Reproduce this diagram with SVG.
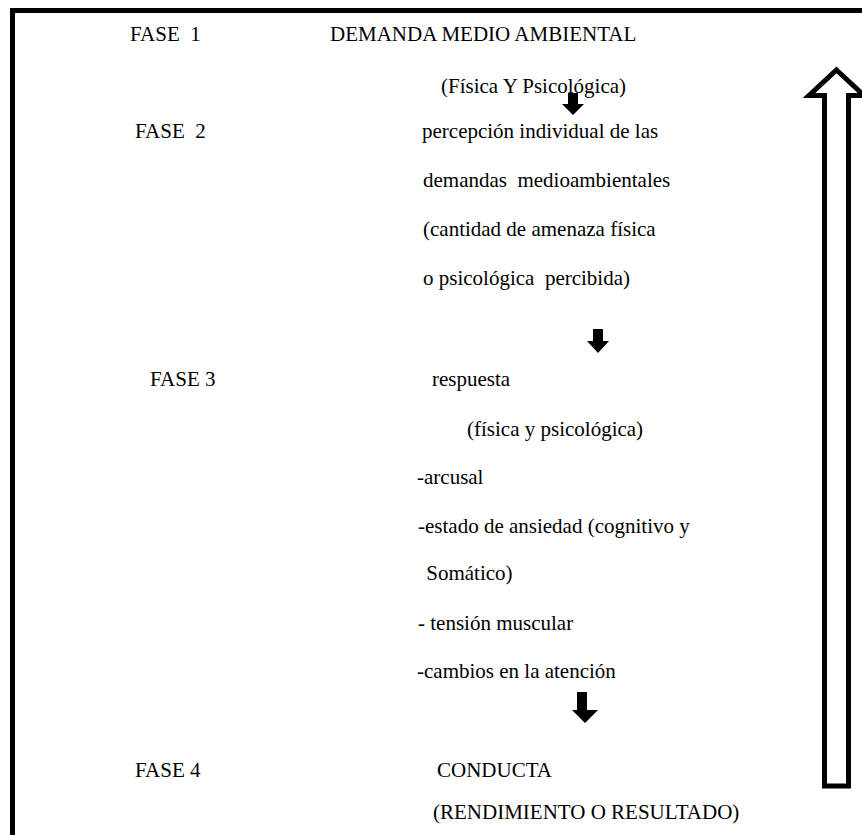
<svg xmlns="http://www.w3.org/2000/svg" width="862" height="835" viewBox="0 0 862 835">
<style>
text{font-family:"Liberation Serif","Times New Roman",serif;font-size:21px;fill:#000;white-space:pre}
.frame{fill:none;stroke:#000;stroke-width:5}
.down{fill:#000}
.up{fill:#fff;stroke:#000;stroke-width:5;stroke-linejoin:miter}
</style>
<rect width="862" height="835" fill="#fff"/>
<path class="frame" d="M12.5 835 V10.5 H862"/>
<g id="fase1"><text x="130" y="41" xml:space="preserve">FASE  1</text>
<text x="330" y="41">DEMANDA MEDIO AMBIENTAL</text>
<text x="441" y="93">(Física Y Psicológica)</text></g>
<g id="fase2"><text x="135" y="138" xml:space="preserve">FASE  2</text>
<text x="422" y="138">percepción individual de las</text>
<text x="423" y="187" xml:space="preserve">demandas  medioambientales</text>
<text x="423" y="236">(cantidad de amenaza física</text>
<text x="423" y="285" xml:space="preserve">o psicológica  percibida)</text></g>
<g id="fase3"><text x="150" y="386">FASE 3</text>
<text x="432" y="386">respuesta</text>
<text x="467" y="436">(física y psicológica)</text>
<text x="417" y="484">-arcusal</text>
<text x="418" y="533">-estado de ansiedad (cognitivo y</text>
<text x="421" y="580" xml:space="preserve"> Somático)</text>
<text x="418" y="630" xml:space="preserve">- tensión muscular</text>
<text x="417" y="678">-cambios en la atención</text></g>
<g id="fase4"><text x="135" y="777">FASE 4</text>
<text x="437" y="777">CONDUCTA</text>
<text x="433" y="819">(RENDIMIENTO O RESULTADO)</text></g>
<g id="connectors">
<path class="down" d="M568 93 H578 V104 H584 L573 115 L562 104 H568 Z"/>
<path class="down" d="M593 329 H603 V341 H609 L598 353 L587 341 H593 Z"/>
<path class="down" d="M577 692 H587 V710 H598 L585 723 L572 710 H577 Z"/>
<path class="up" d="M836.5 70 L864 95.5 H848.5 V786 H824.5 V95.5 H809 Z"/>
</g>
</svg>
